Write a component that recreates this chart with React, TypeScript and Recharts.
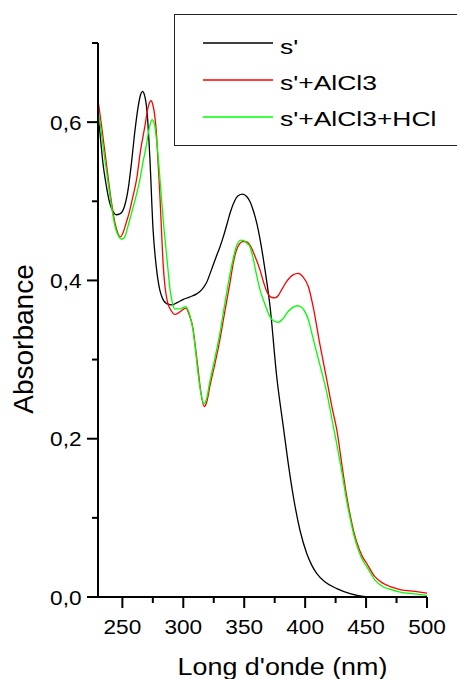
import React from 'react';
import { LineChart, Line, XAxis, YAxis, Legend } from 'recharts';

const FONT = '"Liberation Sans", Arial, Helvetica, sans-serif';

// Tick definitions
const xTicks = [250, 275, 300, 325, 350, 375, 400, 425, 450, 475, 500];
const xMajor = [250, 300, 350, 400, 450, 500];
const yTicks = [0, 0.1, 0.2, 0.3, 0.4, 0.5, 0.6, 0.7];
const yMajor = [0, 0.2, 0.4, 0.6];
const yLabels = ['0,0', '0,2', '0,4', '0,6'];

const seriesNames = ["s'", "s'+AlCl3", "s'+AlCl3+HCl"];
const seriesColors = ['#000000', '#ff0000', '#00ff00'];

// s'
const sWl = [230, 232, 234, 237, 239.6, 242, 245, 248, 252, 255, 257.5, 260, 263, 265, 266.5, 268, 270.3, 272.5, 275.2, 278, 280.7, 283, 286, 290.3, 295, 300, 305, 311, 315, 319, 323, 327, 330, 333, 336, 339, 342, 345, 348.7, 352, 354.6, 357.5, 360.2, 363, 367, 371.2, 376.7, 382.1, 386, 390.3, 395.8, 401.3, 405.5, 409.6, 416.4, 426, 436.9, 450.7];
const sAbs = [0.612, 0.58, 0.549, 0.518, 0.498, 0.488, 0.483, 0.484, 0.495, 0.518, 0.549, 0.585, 0.62, 0.635, 0.639, 0.635, 0.612, 0.557, 0.464, 0.415, 0.388, 0.377, 0.371, 0.369, 0.372, 0.376, 0.379, 0.383, 0.388, 0.397, 0.413, 0.43, 0.442, 0.456, 0.472, 0.488, 0.5, 0.507, 0.509, 0.506, 0.5, 0.488, 0.473, 0.452, 0.414, 0.367, 0.278, 0.215, 0.17, 0.127, 0.084, 0.055, 0.04, 0.0296, 0.019, 0.0106, 0.0043, 0.0];

// s'+AlCl3
const alWl = [230, 232.5, 235, 237.5, 240, 244, 246, 248.4, 251, 253, 255.5, 258.5, 261.6, 265, 268.5, 271, 273.3, 275, 276.6, 278, 279.3, 280.7, 282.1, 283.5, 285, 287, 290, 293.1, 297, 302.1, 305, 308.1, 310, 312.2, 314.5, 317.2, 319.5, 321.8, 326, 330, 334, 338.3, 341, 343.8, 346, 348.7, 351.5, 354.6, 359, 363, 366, 368.5, 372, 375.3, 378, 381, 385, 390, 394.4, 398, 402.7, 406.8, 412, 417.8, 422, 426, 431, 434, 437, 440, 444, 447, 450.7, 457, 464.3, 470, 478, 490, 500];
const alAbs = [0.628, 0.6, 0.57, 0.54, 0.51, 0.472, 0.461, 0.455, 0.462, 0.472, 0.485, 0.505, 0.527, 0.565, 0.595, 0.618, 0.627, 0.622, 0.608, 0.585, 0.549, 0.51, 0.464, 0.42, 0.392, 0.373, 0.362, 0.357, 0.36, 0.365, 0.356, 0.338, 0.315, 0.287, 0.258, 0.2405, 0.248, 0.266, 0.295, 0.325, 0.36, 0.397, 0.422, 0.439, 0.446, 0.449, 0.449, 0.445, 0.43, 0.413, 0.397, 0.386, 0.379, 0.378, 0.381, 0.389, 0.399, 0.407, 0.409, 0.405, 0.392, 0.365, 0.32, 0.274, 0.24, 0.211, 0.158, 0.128, 0.103, 0.082, 0.062, 0.051, 0.042, 0.026, 0.017, 0.013, 0.0093, 0.007, 0.005];

// s'+AlCl3+HCl
const hclWl = [230, 232.5, 235, 237.5, 240, 244, 246.5, 249.7, 252, 254.5, 257.5, 261, 264.3, 267, 269.8, 272, 274.4, 276.5, 278, 280, 282, 284, 286.7, 289, 291, 293, 297, 302, 305, 308, 310, 312, 314.5, 317, 319, 321.5, 326, 330, 334, 338, 341, 343.5, 347.5, 350, 352, 354.6, 357, 360, 363, 367, 371.2, 374, 378, 382, 386.2, 390, 393.6, 397, 400, 402.7, 406, 409.6, 413.5, 417.8, 420.5, 423.2, 426, 431, 434, 437, 440, 444, 447, 450.7, 457, 464.3, 470, 478, 490, 500];
const hclAbs = [0.618, 0.59, 0.56, 0.532, 0.505, 0.468, 0.457, 0.452, 0.455, 0.468, 0.485, 0.505, 0.527, 0.55, 0.572, 0.592, 0.603, 0.596, 0.578, 0.545, 0.505, 0.468, 0.426, 0.39, 0.372, 0.364, 0.364, 0.367, 0.358, 0.337, 0.312, 0.284, 0.257, 0.244, 0.25, 0.27, 0.302, 0.333, 0.37, 0.405, 0.428, 0.443, 0.451, 0.45, 0.447, 0.443, 0.43, 0.408, 0.388, 0.37, 0.354, 0.349, 0.347, 0.352, 0.361, 0.366, 0.368, 0.366, 0.36, 0.35, 0.33, 0.308, 0.285, 0.258, 0.237, 0.215, 0.193, 0.15, 0.122, 0.099, 0.078, 0.058, 0.047, 0.038, 0.022, 0.0127, 0.0095, 0.0063, 0.004, 0.002];

const toData = (wl: number[], ab: number[]) => wl.map((w, i) => ({ wl: w, a: ab[i] }));
const sData = toData(sWl, sAbs);
const alData = toData(alWl, alAbs);
const hclData = toData(hclWl, hclAbs);

const XTick = (props: any) => {
  const { x, y, payload } = props;
  const v = payload.value;
  const major = xMajor.includes(v);
  return (
    <g>
      <line x1={x} x2={x} y1={y} y2={y + (major ? 11 : 6)} stroke="#000" strokeWidth={2} />
      {major && (
        <text
          transform={`translate(${x},${y + 37}) scale(1.16,1)`}
          textAnchor="middle"
          fontSize={19.5}
          fontFamily={FONT}
          fill="#000"
        >
          {v}
        </text>
      )}
    </g>
  );
};

const YTick = (props: any) => {
  const { x, y, payload } = props;
  const v = payload.value;
  const idx = yMajor.findIndex((m) => Math.abs(m - v) < 1e-6);
  const major = idx >= 0;
  return (
    <g>
      <line x1={x} x2={x - (major ? 11 : 6)} y1={y} y2={y} stroke="#000" strokeWidth={2} />
      {major && (
        <text
          transform={`translate(${x - 16.5},${y + 7.5}) scale(1.16,1)`}
          textAnchor="end"
          fontSize={19.5}
          fontFamily={FONT}
          fill="#000"
        >
          {yLabels[idx]}
        </text>
      )}
    </g>
  );
};

const XTitle = (props: any) => {
  const vb = props.viewBox || { x: 98, y: 597, width: 329, height: 82 };
  const cx = vb.x + vb.width / 2 + 20;
  return (
    <text
      transform={`translate(${cx},${vb.y + 78}) scale(1.12,1)`}
      textAnchor="middle"
      fontSize={24}
      fontFamily={FONT}
      fill="#000"
    >
      Long d'onde (nm)
    </text>
  );
};

const YTitle = (props: any) => {
  const vb = props.viewBox || { x: 0, y: 43, width: 98, height: 554 };
  const cy = vb.y + vb.height / 2 + 19;
  return (
    <text
      transform={`translate(${vb.x + 33},${cy}) rotate(-90)`}
      textAnchor="middle"
      fontSize={28}
      fontFamily={FONT}
      fill="#000"
    >
      Absorbance
    </text>
  );
};

const LegendBox = (props: any) => {
  const payload = props.payload || [];
  return (
    <div
      style={{
        width: 300,
        height: 132,
        border: '1.5px solid #222',
        boxSizing: 'border-box',
        background: '#fff',
      }}
    >
      <svg width={300} height={130} style={{ display: 'block' }}>
        {payload.map((p: any, i: number) => (
          <g key={i}>
            <line x1={28} x2={98} y1={28 + i * 37} y2={28 + i * 37} stroke={p.color} strokeWidth={1.5} />
            <text
              transform={`translate(105,${38.5 + i * 36.2}) scale(1.26,1)`}
              fontSize={21}
              fontFamily={FONT}
              fill="#000"
            >
              {p.value}
            </text>
          </g>
        ))}
      </svg>
    </div>
  );
};

export default function App() {
  return (
    <div
      style={{
        position: 'absolute',
        left: 0,
        top: 0,
        width: 457,
        height: 679,
        overflow: 'hidden',
        background: '#fff',
      }}
    >
      <LineChart width={457} height={679} margin={{ top: 43, right: 30, bottom: 0, left: 0 }}>
        <XAxis
          type="number"
          dataKey="wl"
          domain={[230, 500]}
          ticks={xTicks}
          interval={0}
          allowDataOverflow
          height={82}
          tickLine={false}
          tickSize={0}
          tickMargin={0}
          tick={<XTick />}
          axisLine={{ stroke: '#000', strokeWidth: 2 }}
          label={{ content: <XTitle /> }}
        />
        <YAxis
          type="number"
          domain={[0, 0.7]}
          ticks={yTicks}
          interval={0}
          allowDataOverflow
          width={98}
          tickLine={false}
          tickSize={0}
          tickMargin={0}
          tick={<YTick />}
          axisLine={{ stroke: '#000', strokeWidth: 2 }}
          label={{ content: <YTitle /> }}
        />
        <Legend
          layout="horizontal"
          verticalAlign="middle"
          align="center"
          content={<LegendBox />}
          wrapperStyle={{ position: 'absolute', left: 174, top: 14, width: 300, height: 132 }}
        />
        <Line data={sData} dataKey="a" name={seriesNames[0]} type="monotone" stroke={seriesColors[0]} strokeWidth={1.3} dot={false} isAnimationActive={false} />
        <Line data={alData} dataKey="a" name={seriesNames[1]} type="monotone" stroke={seriesColors[1]} strokeWidth={1.3} dot={false} isAnimationActive={false} />
        <Line data={hclData} dataKey="a" name={seriesNames[2]} type="monotone" stroke={seriesColors[2]} strokeWidth={1.3} dot={false} isAnimationActive={false} />
      </LineChart>
    </div>
  );
}
